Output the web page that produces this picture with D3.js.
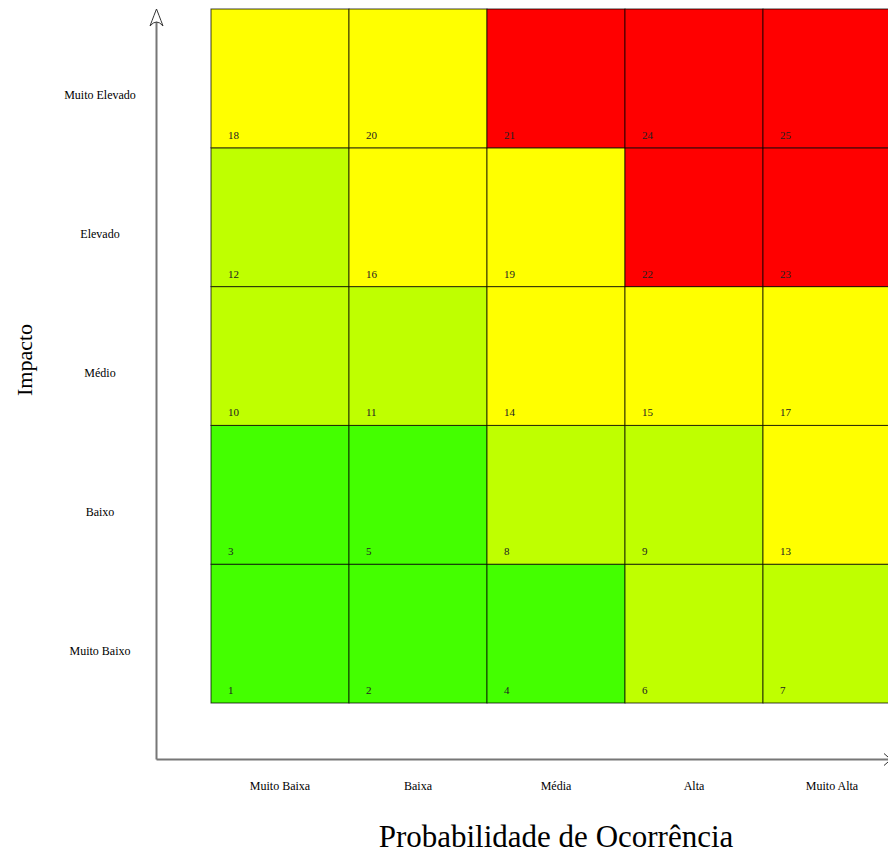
<!DOCTYPE html>
<html><head><meta charset="utf-8">
<script src="https://cdn.jsdelivr.net/npm/d3@7"></script>
<style>body{margin:0;background:#fff}svg{display:block}</style>
</head><body>
<svg id="c" width="888" height="856"></svg>
<script>
const probabilities = ["Muito Baixa","Baixa","Média","Alta","Muito Alta"];
const impacts = ["Muito Baixo","Baixo","Médio","Elevado","Muito Elevado"];
// scores per impact row (bottom to top), per probability column
const scores = [
  [1,2,4,6,7],
  [3,5,8,9,13],
  [10,11,14,15,17],
  [12,16,19,22,23],
  [18,20,21,24,25]
];
const levelThresholds = [6,13,21];
const levelColors = ["#44ff00","#bfff00","#ffff00","#ff0000"];

const svg = d3.select("#c");
const x = d3.scaleBand().domain(probabilities).range([211,901]);
const y = d3.scaleBand().domain(impacts).range([703,9]);
const color = d3.scaleThreshold().domain(levelThresholds).range(levelColors);
const font = "'Liberation Serif','Times New Roman',serif";

const cells = [];
impacts.forEach((imp,i)=>probabilities.forEach((p,j)=>cells.push({imp,p,v:scores[i][j]})));

const g = svg.append("g");
g.selectAll("rect").data(cells).join("rect")
  .attr("x",d=>x(d.p)).attr("y",d=>y(d.imp))
  .attr("width",x.bandwidth()).attr("height",y.bandwidth())
  .attr("fill",d=>color(d.v))
  .attr("stroke","#000").attr("stroke-opacity",0.75).attr("stroke-width",1);
g.selectAll("text").data(cells).join("text")
  .attr("x",d=>x(d.p)+17).attr("y",d=>y(d.imp)+y.bandwidth()-9)
  .attr("font-family",font).attr("font-size",11).attr("fill","#222")
  .text(d=>d.v);

// axis labels
svg.append("g").selectAll("text").data(impacts).join("text")
  .attr("x",100).attr("y",d=>y(d)+y.bandwidth()/2+21)
  .attr("text-anchor","middle").attr("font-family",font).attr("font-size",12)
  .text(d=>d);
svg.append("g").selectAll("text").data(probabilities).join("text")
  .attr("x",d=>x(d)+x.bandwidth()/2).attr("y",790)
  .attr("text-anchor","middle").attr("font-family",font).attr("font-size",12)
  .text(d=>d);

// axes lines with arrows
const ax = 156.5, ay = 759.5;
svg.append("line").attr("x1",ax).attr("y1",ay).attr("x2",ax).attr("y2",11)
  .attr("stroke","#777").attr("stroke-width",2);
svg.append("line").attr("x1",ax).attr("y1",ay).attr("x2",888).attr("y2",ay)
  .attr("stroke","#777").attr("stroke-width",2);
svg.append("path").attr("d",`M${ax-6.5},${26} Q${ax-2},${14} ${ax},${9} Q${ax+2},${14} ${ax+6.5},${26} Q${ax},${18} ${ax-6.5},${26}Z`)
  .attr("fill","#fff").attr("stroke","#333").attr("stroke-width",1);
svg.append("path").attr("d",`M${884},${ay-6} Q${888},${ay-2} ${892},${ay} Q${888},${ay+2} ${884},${ay+6}`)
  .attr("fill","none").attr("stroke","#333").attr("stroke-width",1);

svg.append("text").attr("transform","translate(32,360) rotate(-90)")
  .attr("text-anchor","middle").attr("font-family",font).attr("font-size",22).text("Impacto");
svg.append("text").attr("x",556).attr("y",847)
  .attr("text-anchor","middle").attr("font-family",font).attr("font-size",31).text("Probabilidade de Ocorrência");
</script>
</body></html>
